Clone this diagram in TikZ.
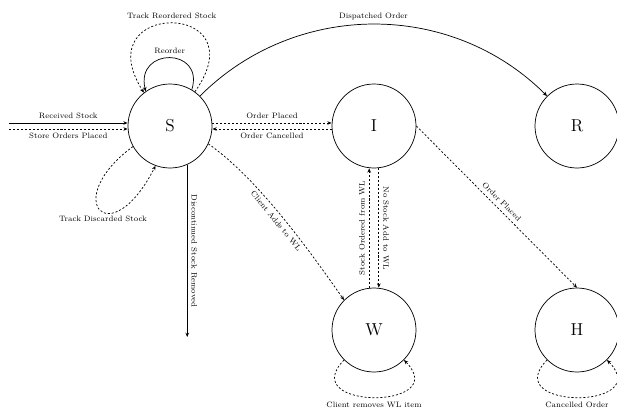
\documentclass[tikz,border=0pt]{standalone}
\usetikzlibrary{arrows.meta}
\begin{document}
\begin{tikzpicture}[x=0.8333pt,y=0.8333pt,
  state/.style={circle,draw,line width=0.6pt,minimum size=70pt,inner sep=0pt,font=\Large},
  edge/.style={line width=0.6pt,-{Stealth[length=3.6pt,width=3pt]}},
  dashedge/.style={edge,dash pattern=on 1.7pt off 1.6pt},
  lbl/.style={font=\fontsize{6.5}{7.5}\selectfont}
]
\useasboundingbox (0,0) rectangle (617,411);
\node[state] (S) at (170,285) {S};
\node[state] (I) at (374,285) {I};
\node[state] (R) at (577,285) {R};
\node[state] (W) at (374,81) {W};
\node[state] (H) at (577,81) {H};
\coordinate (rs) at (9,288);
\coordinate (so) at (9,282);
\coordinate (dsr) at (187,74);
% incoming
\draw[edge] (rs) -- node[lbl,above]{Received Stock} (rs -| S.west);
\draw[dashedge] (so) -- node[lbl,below]{Store Orders Placed} (so -| S.west);
% S <-> I
\draw[dashedge] ([yshift=2.5pt]S.east) -- node[lbl,above]{Order Placed} ([yshift=2.5pt]I.west);
\draw[dashedge] ([yshift=-2.5pt]I.west) -- node[lbl,below]{Order Cancelled} ([yshift=-2.5pt]S.east);
% dispatched
\draw[edge] (S) to[bend left=45] node[lbl,above]{Dispatched Order} (R);
% loops on S
\draw[edge] (S.59) .. controls (205,364) and (135,364) .. node[lbl,above]{Reorder} (S.125);
\draw[dashedge] (S.54) .. controls (260,411) and (85,411) .. node[lbl,above]{Track Reordered Stock} (S.128);
\draw[dashedge] (S.209) .. controls (60,211) and (110,156) .. node[lbl,below,pos=0.55]{Track Discarded Stock} (S.250);
% discontinued
\draw[edge] (S.-66) -- node[lbl,above,sloped]{Discontinued Stock Removed} (S.-66 |- dsr);
% S -> W
\draw[dashedge] (S.-25) to[out=-35,in=125,looseness=0.75] node[lbl,below,sloped]{Client Adds to WL} (W.135);
% I <-> W
\draw[dashedge] ([xshift=4pt]I.south) -- node[lbl,above,sloped]{No Stock Add to WL} ([xshift=4pt]W.north);
\draw[dashedge] ([xshift=-4pt]W.north) -- node[lbl,above,sloped]{Stock Ordered from WL} ([xshift=-4pt]I.south);
% I -> H
\draw[dashedge] (I.east) -- node[lbl,above,sloped]{Order Placed} (H.north);
% loops below W and H
\draw[dashedge] (W.225) .. controls (295,1) and (453,1) .. node[lbl,below]{Client removes WL item} (W.-45);
\draw[dashedge] (H.225) .. controls (498,1) and (656,1) .. node[lbl,below]{Cancelled Order} (H.-45);
\end{tikzpicture}
\end{document}
